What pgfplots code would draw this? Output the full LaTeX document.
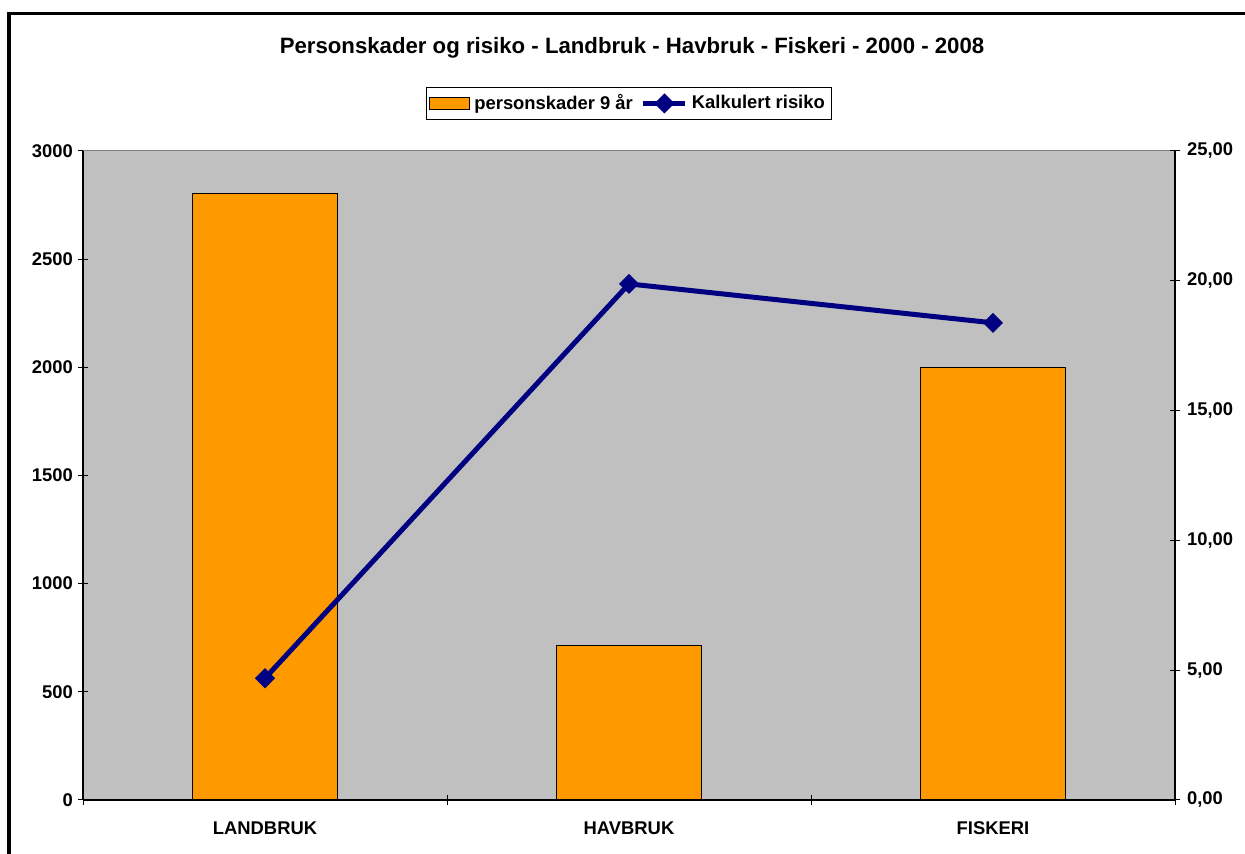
\documentclass[border=0pt]{standalone}
\usepackage{fontspec}
\setmainfont{Liberation Sans}
\usepackage{pgfplots}
\pgfplotsset{compat=1.18}
\definecolor{plotgray}{HTML}{C0C0C0}
\definecolor{barorange}{HTML}{FF9900}
\definecolor{navyline}{HTML}{000080}
\definecolor{bordergray}{HTML}{808080}
\begin{document}
\begin{tikzpicture}
\path[use as bounding box] (0,0) rectangle (622.5pt,427pt);
\fill[white] (0,0) rectangle (622.5pt,427pt);
\draw[line width=1.6pt] (4.5pt,0pt) -- (4.5pt,420.25pt) -- (622.5pt,420.25pt);
\node[font=\bfseries\fontsize{11.1}{13}\selectfont] at (316pt,403pt) {Personskader og risiko - Landbruk - Havbruk - Fiskeri - 2000 - 2008};
\begin{axis}[
  at={(41.5pt,27pt)}, anchor=south west,
  width=546pt, height=324.5pt, scale only axis,
  xmin=-0.5, xmax=2.5, ymin=0, ymax=3000,
  axis x line*=bottom, axis y line*=left,
  axis line style={black, -, line width=0.6pt},
  axis background/.style={fill=plotgray},
  xtick={-0.5,0.5,1.5,2.5}, xticklabels={LANDBRUK,HAVBRUK,FISKERI}, x tick label as interval,
  ytick={0,500,...,3000},
  tick align=center, major tick length=5pt,
  tick style={black, line width=0.5pt},
  /pgf/number format/assume math mode=true,
  /pgf/number format/1000 sep={},
  tick label style={font=\bfseries\fontsize{9.2}{11}\selectfont},
  xticklabel style={yshift=-5pt},
  yticklabel style={xshift=1pt},
  clip=false,
]
\addplot[ybar, bar width=0.4, fill=barorange, draw=black, line width=0.5pt] coordinates {(0,2805) (1,712) (2,2001)};
\draw[bordergray, line width=0.5pt] (rel axis cs:0,1) -- (rel axis cs:1,1);
\end{axis}
\begin{axis}[
  at={(41.5pt,27pt)}, anchor=south west,
  width=546pt, height=324.5pt, scale only axis,
  xmin=-0.5, xmax=2.5, ymin=0, ymax=25,
  axis y line*=right, axis x line=none,
  axis line style={black, -, line width=0.6pt},
  ytick={0,5,...,25},
  yticklabels={{0,00},{5,00},{10,00},{15,00},{20,00},{25,00}},
  tick align=center, major tick length=5pt,
  tick style={black, line width=0.5pt},
  tick label style={font=\bfseries\fontsize{9.2}{11}\selectfont},
  clip=false,
  legend columns=2,
  legend style={at={(0.5,1)}, anchor=south, yshift=15.5pt, draw=black, line width=0.5pt, fill=white,
    font=\bfseries\fontsize{9.2}{11}\selectfont, inner sep=1.5pt,
    /tikz/every even column/.append style={column sep=2pt}},
]
\addlegendimage{legend image code/.code={\draw[fill=barorange, draw=black, line width=0.6pt] (0pt,-3pt) rectangle (20pt,3pt);}}
\addlegendentry{personskader 9 år}
\addplot[navyline, line width=2.5pt, mark=square*, mark size=2.3pt, mark options={rotate=45, solid},
  legend image code/.code={\draw[mark repeat=2,mark phase=2] plot coordinates {(0pt,0pt) (10.5pt,0pt) (21pt,0pt)};}]
  coordinates {(0,4.69) (1,19.88) (2,18.38)};
\addlegendentry{Kalkulert risiko}
\end{axis}
\end{tikzpicture}
\end{document}
